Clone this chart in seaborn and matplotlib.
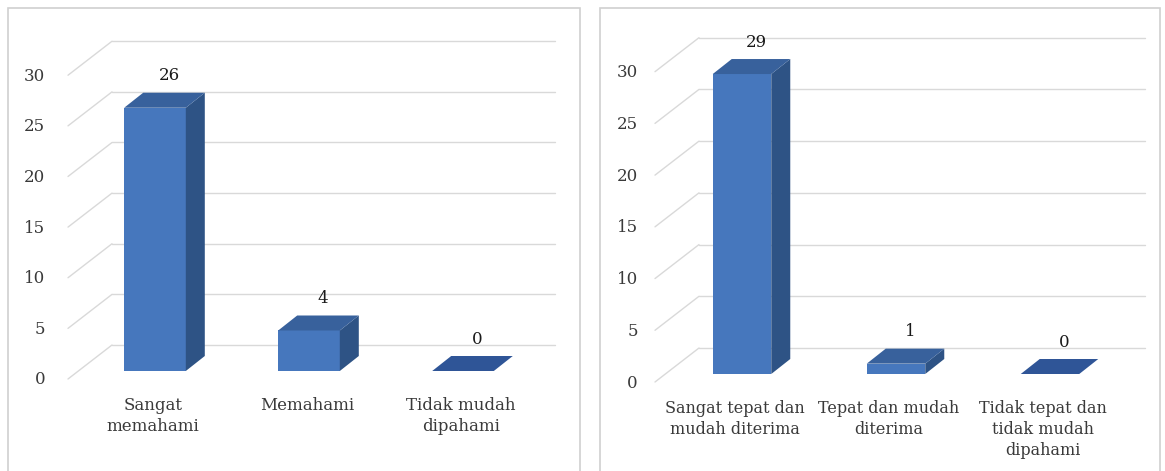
import matplotlib
matplotlib.use("Agg")
import matplotlib.pyplot as plt
import matplotlib.transforms as mtransforms
from matplotlib.patches import Polygon, Rectangle
import seaborn as sns

# data
left_categories = ["Sangat\nmemahami", "Memahami", "Tidak mudah\ndipahami"]
left_values = [26, 4, 0]
right_categories = ["Sangat tepat dan\nmudah diterima", "Tepat dan mudah\nditerima",
                    "Tidak tepat dan\ntidak mudah\ndipahami"]
right_values = [29, 1, 0]
y_ticks = [0, 5, 10, 15, 20, 25, 30]

FRONT = "#4677BD"
SIDE = "#2E5385"
TOP = "#38619C"
FLAT = "#2F5597"
GRID = "#d9d9d9"
TEXT = "#3a3a3a"

W, H = 1165, 471
sns.set_theme(style="white")
plt.rcParams["font.family"] = ["DejaVu Serif"]

fig = plt.figure(figsize=(W / 100, H / 100), dpi=100)


def draw_panel(box, axrect, ymax, cats, vals, bar_w, ylabel_pad, back_right,
               xlab_size, xlab_shift):
    # light panel border
    bx0, by0, bx1, by1 = box
    fig.patches.append(Rectangle((bx0 / W, 1 - by1 / H), (bx1 - bx0) / W, (by1 - by0) / H,
                                 transform=fig.transFigure, fill=False,
                                 edgecolor="#d0d0d0", lw=1.2))
    left, top, right, bottom = axrect
    ax = fig.add_axes([left / W, 1 - bottom / H, (right - left) / W, (bottom - top) / H])
    ax.set_facecolor("none")
    ax.set_ylim(0, ymax)
    ax.set_xlim(-0.5, 2.5)
    px_x = 3 / (right - left)          # data units per pixel
    px_y = ymax / (bottom - top)

    sns.barplot(x=list(range(len(cats))), y=vals, color=FRONT, saturation=1,
                width=bar_w, ax=ax, zorder=3, native_scale=True,
                edgecolor="none", linewidth=0)

    # back wall grid with perspective offset
    gdx, gdy = 34 * px_x, 26 * px_y
    for v in y_ticks:
        ax.plot([-0.5 + gdx, -0.5 + (back_right - left) * px_x], [v + gdy, v + gdy],
                color=GRID, lw=1, clip_on=False, zorder=1)
        ax.plot([-0.5 - 10 * px_x, -0.5 + gdx], [v - 8 * px_y, v + gdy],
                color=GRID, lw=1, clip_on=False, zorder=1)

    # 3d depth on bars
    ddx, ddy = 19 * px_x, 15 * px_y
    for p, v in zip(ax.patches, vals):
        x0 = p.get_x()
        x1 = x0 + p.get_width()
        h = p.get_height()
        side = Polygon([(x1, 0), (x1 + ddx, ddy), (x1 + ddx, h + ddy), (x1, h)],
                       closed=True, facecolor=SIDE, edgecolor="none", zorder=3, clip_on=False)
        topf = Polygon([(x0, h), (x1, h), (x1 + ddx, h + ddy), (x0 + ddx, h + ddy)],
                       closed=True, facecolor=TOP if h > 0 else FLAT,
                       edgecolor="none", zorder=4, clip_on=False)
        ax.add_patch(side)
        ax.add_patch(topf)
        ax.annotate(f"{v}", (p.get_x() + p.get_width() / 2, h), xytext=(10, 23),
                    textcoords="offset points", ha="center", va="center",
                    fontsize=12, color="#1a1a1a", annotation_clip=False)

    ax.set_yticks(y_ticks)
    ax.set_xticks(range(len(cats)))
    ax.set_xticklabels(cats, linespacing=1.3)
    ax.tick_params(axis="y", length=0, pad=ylabel_pad, labelsize=12, labelcolor=TEXT)
    ax.tick_params(axis="x", length=0, pad=19, labelsize=xlab_size, labelcolor=TEXT)
    shift = mtransforms.ScaledTranslation(0, -7 / 100, fig.dpi_scale_trans)
    for lab in ax.get_yticklabels():
        lab.set_transform(lab.get_transform() + shift)
    xshift = mtransforms.ScaledTranslation(xlab_shift / 100, 0, fig.dpi_scale_trans)
    for lab in ax.get_xticklabels():
        lab.set_transform(lab.get_transform() + xshift)
    for s in ax.spines.values():
        s.set_visible(False)
    ax.grid(False)
    return ax


draw_panel((8, 8, 580, 480), (78, 49, 540, 371), 31.8, left_categories, left_values,
           0.40, 23.5, 555, 12, -2)
draw_panel((600, 8, 1160, 480), (665, 43, 1127, 374), 32, right_categories, right_values,
           0.38, 19.5, 1145, 11.5, -7)

fig.savefig("out.png", dpi=100)
